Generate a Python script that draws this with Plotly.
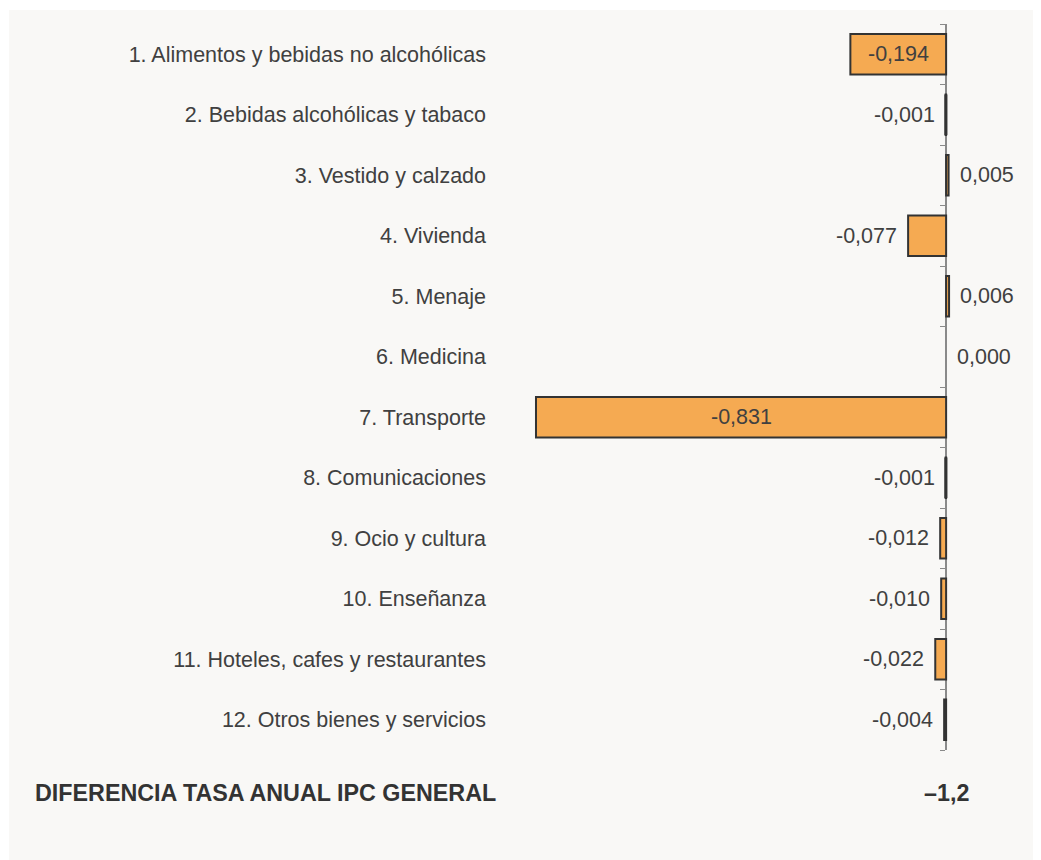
import plotly.graph_objects as go

categories = [
    "1. Alimentos y bebidas no alcohólicas",
    "2. Bebidas alcohólicas y tabaco",
    "3. Vestido y calzado",
    "4. Vivienda",
    "5. Menaje",
    "6. Medicina",
    "7. Transporte",
    "8. Comunicaciones",
    "9. Ocio y cultura",
    "10. Enseñanza",
    "11. Hoteles, cafes y restaurantes",
    "12. Otros bienes y servicios",
]
values = [-0.194, -0.001, 0.005, -0.077, 0.006, 0.000, -0.831, -0.001, -0.012, -0.010, -0.022, -0.004]
total_label = "DIFERENCIA TASA ANUAL IPC GENERAL"
total_value = "–1,2"

OFF = 8  # default page body margin
W, H = 1041 - OFF, 860 - OFF
L, R, T, B = 497 - OFF, 10, 24 - OFF, 110
pw, ph = W - L - R, H - T - B
xmin, xmax = -0.910, 0.172
zero_frac = (0 - xmin) / (xmax - xmin)
BAR_W = 0.67

FONT = "Arial, Liberation Sans, sans-serif"
TXT = "#404040"

def fmt(v):
    return f"{v:.3f}".replace(".", ",")

def px_to_paper_x(px):  # px in reference image coords
    return (px - OFF - L) / pw

def py_to_paper_y(py):
    return (T + ph - (py - OFF)) / ph

fig = go.Figure()
fig.add_trace(go.Bar(
    y=categories, x=[v if v != 0 else None for v in values], orientation="h", width=BAR_W,
    marker=dict(color="#f5aa52", line=dict(color="#333333", width=2)),
    hoverinfo="skip", showlegend=False,
))

# very thin bars: keep their outline visible as a dark stroke
lx, ly = [], []
for i, v in enumerate(values):
    if v != 0 and abs(v) < 0.004:
        lx += [v / 2, v / 2, None]
        ly += [i - BAR_W / 2, i + BAR_W / 2, None]
fig.add_trace(go.Scatter(x=lx, y=ly, yaxis="y2", mode="lines",
                         line=dict(color="#333333", width=3),
                         hoverinfo="skip", showlegend=False))

annotations = []
for c, v in zip(categories, values):
    if abs(v) >= 0.1:
        annotations.append(dict(x=v / 2, y=c, xref="x", yref="y", text=fmt(v),
                                showarrow=False, xanchor="center",
                                font=dict(family=FONT, size=21.5, color=TXT)))
    else:
        neg = v < 0
        annotations.append(dict(x=v, y=c, xref="x", yref="y", text=fmt(v),
                                showarrow=False, xanchor="right" if neg else "left",
                                xshift=-9 if neg else 9,
                                font=dict(family=FONT, size=21.5, color=TXT)))

ty = py_to_paper_y(793)
annotations.append(dict(x=px_to_paper_x(33), y=ty, xref="paper", yref="paper",
                        text=f"<b>{total_label}</b>", showarrow=False, xanchor="left",
                        yanchor="middle", font=dict(family=FONT, size=23.3, color="#333333")))
annotations.append(dict(x=0, y=ty, xref="x", yref="paper",
                        text=f"<b>{total_value}</b>", showarrow=False, xanchor="center",
                        yanchor="middle", font=dict(family=FONT, size=23.3, color="#333333")))

n = len(categories)
fig.update_layout(
    width=W, height=H,
    margin=dict(l=L, r=R, t=T, b=B, autoexpand=False),
    paper_bgcolor="white", plot_bgcolor="rgba(0,0,0,0)",
    font=dict(family=FONT, size=21.5, color=TXT),
    xaxis=dict(range=[xmin, xmax], visible=False, fixedrange=True),
    yaxis=dict(categoryorder="array", categoryarray=categories,
               range=[n - 0.5, -0.5], showline=False, showgrid=False, zeroline=False,
               ticks="", ticklabelstandoff=10,
               tickfont=dict(family=FONT, size=21.5, color=TXT)),
    yaxis2=dict(overlaying="y", anchor="free", position=zero_frac, side="left",
                range=[n - 0.5, -0.5], showgrid=False, zeroline=False,
                showline=True, linecolor="#8a8a8a", linewidth=1.5,
                ticks="outside", ticklen=5, tickwidth=1, tickcolor="#8a8a8a",
                tickvals=[i - 0.5 for i in range(n + 1)], showticklabels=False,
                layer="below traces"),
    annotations=annotations,
    shapes=[dict(type="rect", xref="paper", yref="paper", layer="below",
                 x0=px_to_paper_x(9), x1=px_to_paper_x(1060),
                 y0=py_to_paper_y(880), y1=py_to_paper_y(10),
                 fillcolor="#f9f8f6", line=dict(width=0))],
)

fig.write_html("out.html", default_width=f"{W}px", default_height=f"{H}px")
